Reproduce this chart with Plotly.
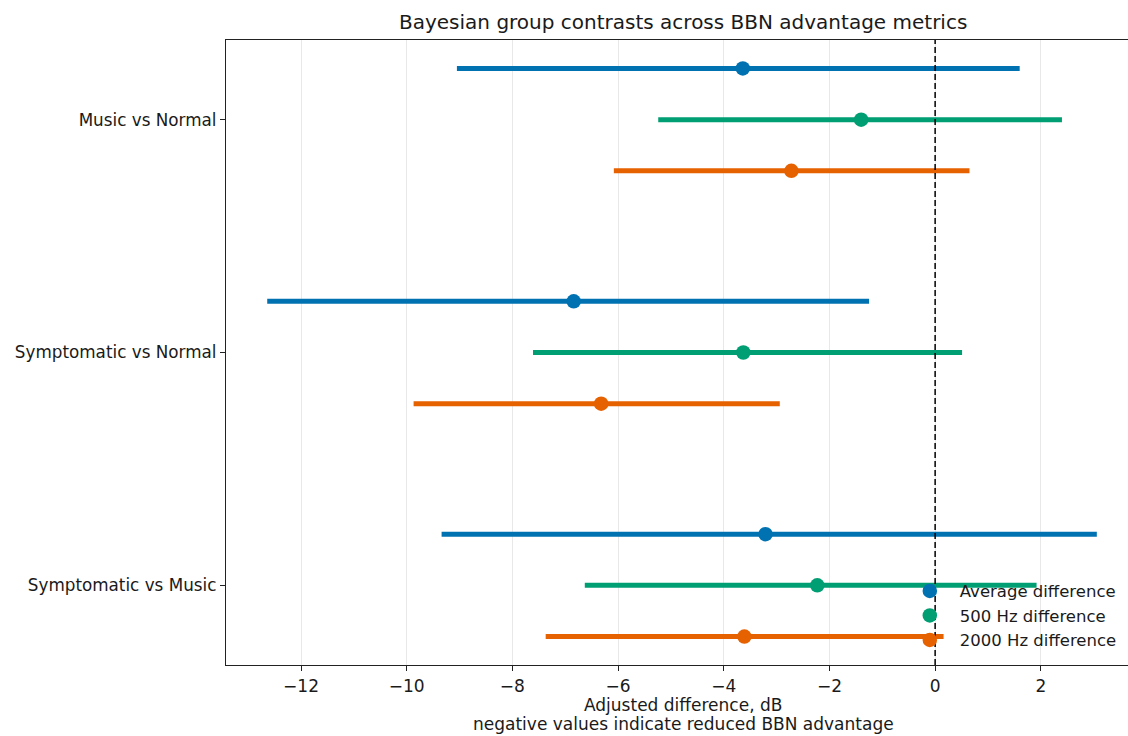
import plotly.graph_objects as go

# ---- data ----
contrasts = ["Music vs Normal", "Symptomatic vs Normal", "Symptomatic vs Music"]
metrics = ["Average difference", "500 Hz difference", "2000 Hz difference"]

avg_est = [-3.64, -6.84, -3.21]
avg_lo = [-9.05, -12.64, -9.34]
avg_hi = [1.60, -1.25, 3.06]

hz500_est = [-1.40, -3.63, -2.23]
hz500_lo = [-5.24, -7.61, -6.63]
hz500_hi = [2.40, 0.51, 1.92]

hz2000_est = [-2.72, -6.32, -3.61]
hz2000_lo = [-6.08, -9.87, -7.37]
hz2000_hi = [0.65, -2.94, 0.16]

x_ticks = [-12, -10, -8, -6, -4, -2, 0, 2]
ref_x = 0

# ---- styles ----
colors = ["#0072B2", "#009E73", "#E66100"]
offsets = [-0.22, 0.0, 0.22]
FONT = "DejaVu Sans, Liberation Sans, sans-serif"
TXT = "#1a1a1a"

series = [
    (avg_est, avg_lo, avg_hi),
    (hz500_est, hz500_lo, hz500_hi),
    (hz2000_est, hz2000_lo, hz2000_hi),
]

fig = go.Figure()
for k, (est, lo, hi) in enumerate(series):
    ys = [i + offsets[k] for i in range(len(contrasts))]
    fig.add_trace(go.Scatter(
        x=est, y=ys, mode="markers", name=metrics[k],
        marker=dict(color=colors[k], size=14.5, line=dict(width=0)),
        error_x=dict(type="data", symmetric=False,
                     array=[h - e for h, e in zip(hi, est)],
                     arrayminus=[e - l for e, l in zip(est, lo)],
                     color=colors[k], thickness=5, width=0),
    ))

fig.add_shape(type="line", xref="x", yref="paper", x0=ref_x, x1=ref_x, y0=0, y1=1,
              line=dict(color="black", width=1.5, dash="6px,3px"), layer="above")

L, T, B = 226, 40, 71
W, H = 1128, 736

fig.update_layout(
    width=W, height=H,
    margin=dict(l=L, r=0, t=T, b=B),
    paper_bgcolor="white", plot_bgcolor="white",
    font=dict(family=FONT, size=17, color=TXT),
    showlegend=True,
    legend=dict(x=0.747, y=0.146, xanchor="left", yanchor="top",
                bgcolor="rgba(0,0,0,0)", borderwidth=0, itemwidth=50,
                font=dict(size=16.5, family=FONT, color=TXT), tracegroupgap=0),
)

fig.update_xaxes(
    range=[-13.42, 3.65], tickvals=x_ticks,
    ticktext=[("\u2212" + str(abs(v))) if v < 0 else str(v) for v in x_ticks],
    showgrid=True, gridcolor="#e8e8e8", gridwidth=1,
    showline=True, linecolor="#222", linewidth=1.4, mirror=True,
    ticks="outside", ticklen=5, tickcolor="#222", tickwidth=1.2,
    zeroline=False, tickfont=dict(size=17),
)
fig.update_yaxes(
    range=[2.342, -0.342], tickvals=list(range(len(contrasts))), ticktext=contrasts,
    showgrid=False, zeroline=False,
    showline=True, linecolor="#222", linewidth=1.4,
    ticks="outside", ticklen=5, tickcolor="#222", tickwidth=1.2,
    tickfont=dict(size=16.8),
)

pw = W - L
cx = (683 - L) / pw
fig.add_annotation(text="Bayesian group contrasts across BBN advantage metrics",
                   xref="paper", yref="paper", x=cx, y=1, yshift=18,
                   xanchor="center", yanchor="middle", showarrow=False,
                   font=dict(size=20, family=FONT, color=TXT))
fig.add_annotation(text="Adjusted difference, dB",
                   xref="paper", yref="paper", x=cx, y=0, yshift=-40,
                   xanchor="center", yanchor="middle", showarrow=False,
                   font=dict(size=17, family=FONT, color=TXT))
fig.add_annotation(text="negative values indicate reduced BBN advantage",
                   xref="paper", yref="paper", x=cx, y=0, yshift=-59,
                   xanchor="center", yanchor="middle", showarrow=False,
                   font=dict(size=17, family=FONT, color=TXT))

fig.write_html("out.html",
               config={"displayModeBar": False},
               post_script="document.body.style.margin='0px';document.body.style.overflow='hidden';")
